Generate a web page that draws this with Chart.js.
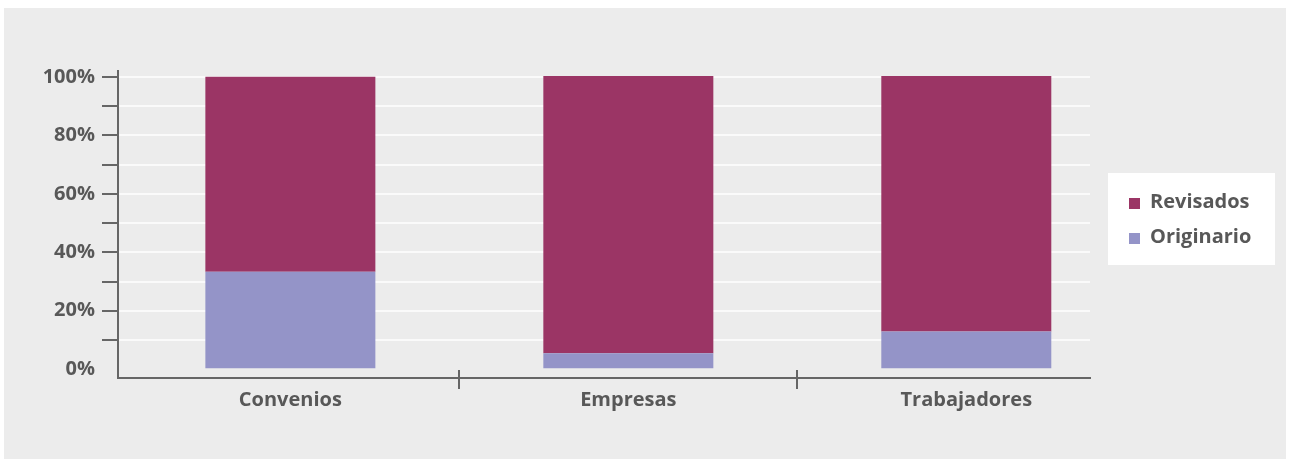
<!DOCTYPE html>
<html>
<head>
<meta charset="utf-8">
<script src="https://cdn.jsdelivr.net/npm/chart.js@4/dist/chart.umd.min.js"></script>
<style>
  body { margin: 0; background: #fff; }
  #wrap { position: absolute; left: 4px; top: 8px; width: 1282px; height: 451px; background: #ececec; }
</style>
</head>
<body>
<div id="wrap"><canvas id="chart"></canvas></div>
<script>
// Categories and series (percent of total)
const categories = ['Convenios', 'Empresas', 'Trabajadores'];
const originario = [33.3, 5.5, 12.9];
const revisados = [66.7, 94.8, 87.4];
const yTicks = [0, 10, 20, 30, 40, 50, 60, 70, 80, 90, 100];
const yTickLabels = { 0: '0%', 20: '20%', 40: '40%', 60: '60%', 80: '80%', 100: '100%' };

const textColor = '#585858';
const axisColor = '#666666';
const font = { family: '"Open Sans", sans-serif', size: 20, weight: 'bold' };

// bars sit on a linear x scale so the plot can stop short of the legend
const toPoints = arr => arr.map((v, i) => ({ x: i, y: v }));

// short vertical marks between categories, crossing the x axis
const separators = {
    id: 'separators',
    afterDraw(chart) {
        const x = chart.scales.x;
        const y0 = chart.chartArea.bottom;
        const c = chart.ctx;
        c.save();
        c.strokeStyle = axisColor;
        c.lineWidth = 2;
        for (let i = 1; i < categories.length; i++) {
            const px = Math.round(x.getPixelForValue(i - 0.5));
            c.beginPath();
            c.moveTo(px, y0 - 8);
            c.lineTo(px, y0 + 11);
            c.stroke();
        }
        c.restore();
    }
};

// legend in a white box to the right of the plot
const boxLegend = {
    id: 'boxLegend',
    afterDraw(chart) {
        const c = chart.ctx;
        const left = chart.chartArea.right + 18;
        const top = 165;
        c.save();
        c.fillStyle = '#ffffff';
        c.fillRect(left, top, 167, 92);
        c.font = `bold ${font.size}px ${font.family}`;
        c.textBaseline = 'middle';
        c.textAlign = 'left';
        const items = chart.data.datasets.slice().reverse();
        items.forEach((ds, i) => {
            const cy = top + 30 + i * 35;
            c.fillStyle = ds.backgroundColor;
            c.fillRect(left + 21, cy - 5, 11, 11);
            c.fillStyle = textColor;
            c.fillText(ds.label, left + 42, cy - 1);
        });
        c.restore();
    }
};

new Chart(document.getElementById('chart'), {
    type: 'bar',
    data: {
        datasets: [
            { label: 'Originario', data: toPoints(originario), backgroundColor: '#9494c8' },
            { label: 'Revisados', data: toPoints(revisados), backgroundColor: '#9b3565' }
        ]
    },
    options: {
        responsive: true,
        maintainAspectRatio: false,
        animation: false,
        categoryPercentage: 1,
        barPercentage: 0.503,
        layout: { padding: { top: 63, right: 196, left: 0, bottom: 0 } },
        plugins: { legend: { display: false }, tooltip: { enabled: false } },
        scales: {
            x: {
                type: 'linear',
                stacked: true,
                offset: false,
                min: -0.51,
                max: 2.366,
                afterBuildTicks: s => { s.ticks = categories.map((c, i) => ({ value: i })); },
                afterFit: s => { s.height = 81; },
                ticks: {
                    autoSkip: false,
                    maxRotation: 0,
                    padding: 10,
                    color: textColor,
                    font: font,
                    callback: v => categories[v]
                },
                grid: { display: false, drawTicks: false, offset: false },
                border: { display: true, color: axisColor, width: 2 }
            },
            y: {
                stacked: true,
                min: -3,
                max: 102,
                afterBuildTicks: s => { s.ticks = yTicks.map(v => ({ value: v })); },
                afterFit: s => { s.width = 114; },
                ticks: {
                    padding: 7,
                    color: textColor,
                    font: font,
                    callback: v => yTickLabels[v] || ''
                },
                grid: {
                    color: ctx => ctx.tick && ctx.tick.value === 0 ? 'rgba(0,0,0,0)' : '#fafafa',
                    lineWidth: 2,
                    tickColor: ctx => ctx.tick && ctx.tick.value === 0 ? 'rgba(0,0,0,0)' : axisColor,
                    tickLength: 16,
                    tickWidth: 2
                },
                border: { display: true, color: axisColor, width: 2 }
            }
        }
    },
    plugins: [separators, boxLegend]
});
</script>
</body>
</html>
